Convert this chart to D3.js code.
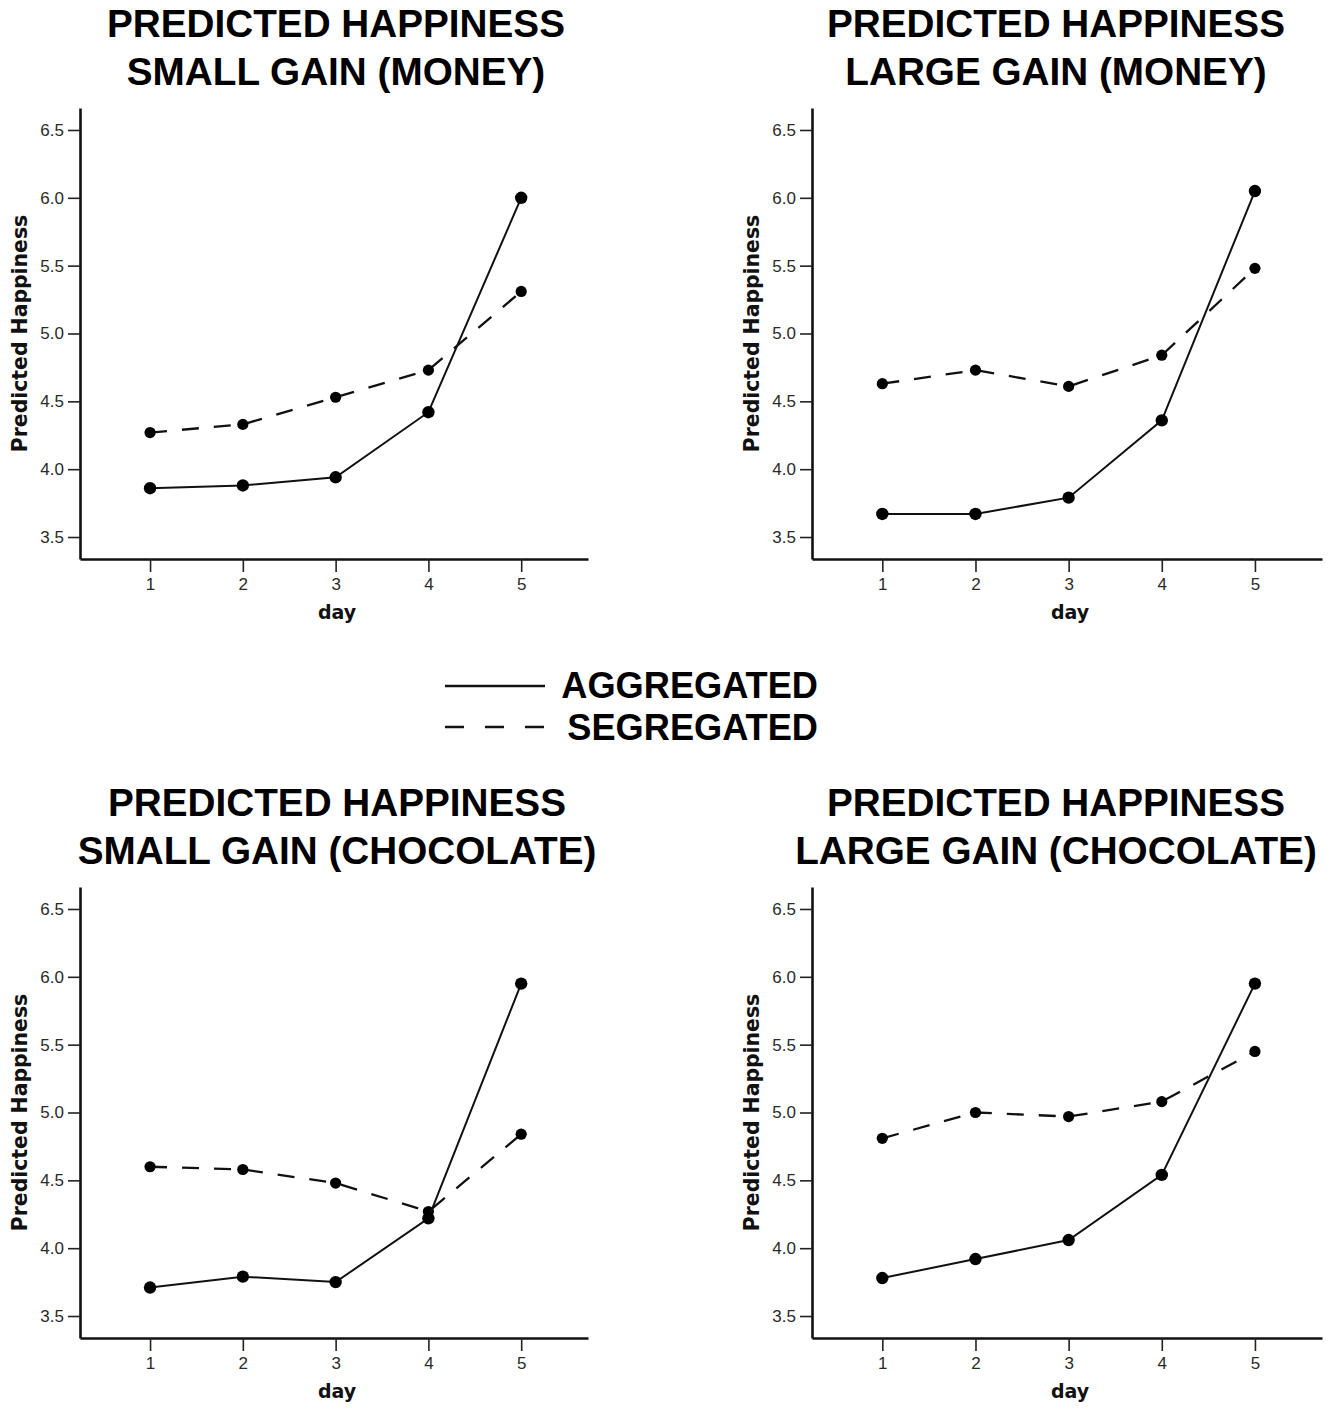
<!DOCTYPE html>
<html>
<head>
<meta charset="utf-8">
<script src="https://cdn.jsdelivr.net/npm/d3@7"></script>
<style>
  html, body { margin: 0; padding: 0; background: #fff; }
  svg { display: block; }
</style>
</head>
<body>
<svg id="chart" width="1331" height="1410"></svg>
<script>
// Days on the x axis
const days = [1, 2, 3, 4, 5];
const yTicks = [3.5, 4.0, 4.5, 5.0, 5.5, 6.0, 6.5];

// Mean predicted happiness per day
const aggSmallMoney = [3.86, 3.88, 3.94, 4.42, 6.00];
const segSmallMoney = [4.27, 4.33, 4.53, 4.73, 5.31];
const aggLargeMoney = [3.67, 3.67, 3.79, 4.36, 6.05];
const segLargeMoney = [4.63, 4.73, 4.61, 4.84, 5.48];
const aggSmallChoc  = [3.71, 3.79, 3.75, 4.22, 5.95];
const segSmallChoc  = [4.60, 4.58, 4.48, 4.27, 4.84];
const aggLargeChoc  = [3.78, 3.92, 4.06, 4.54, 5.95];
const segLargeChoc  = [4.81, 5.00, 4.97, 5.08, 5.45];

const panelTitles = [
  ["PREDICTED HAPPINESS", "SMALL GAIN (MONEY)"],
  ["PREDICTED HAPPINESS", "LARGE GAIN (MONEY)"],
  ["PREDICTED HAPPINESS", "SMALL GAIN (CHOCOLATE)"],
  ["PREDICTED HAPPINESS", "LARGE GAIN (CHOCOLATE)"]
];
const legendLabels = ["AGGREGATED", "SEGREGATED"];
const xLabel = "day";
const yLabel = "Predicted Happiness";

const panels = [
  { title: panelTitles[0], agg: aggSmallMoney, seg: segSmallMoney, left: 80,  top: 108, width: 508, titleX: 336,  titleY: 37 },
  { title: panelTitles[1], agg: aggLargeMoney, seg: segLargeMoney, left: 812, top: 108, width: 510, titleX: 1056, titleY: 37 },
  { title: panelTitles[2], agg: aggSmallChoc,  seg: segSmallChoc,  left: 80,  top: 887, width: 508, titleX: 337,  titleY: 816 },
  { title: panelTitles[3], agg: aggLargeChoc,  seg: segLargeChoc,  left: 812, top: 887, width: 510, titleX: 1056, titleY: 816 }
];
const panelHeight = 451;
const dashPattern = "17,15";

const svg = d3.select("#chart");

panels.forEach(p => {
  const x = d3.scaleLinear().domain([0.245, 5.72]).range([p.left, p.left + p.width]);
  const y = d3.scaleLinear().domain([3.338, 6.662]).range([p.top + panelHeight, p.top]);
  const g = svg.append("g");

  // Title, two lines
  g.append("text")
    .attr("x", p.titleX).attr("y", p.titleY)
    .attr("text-anchor", "middle")
    .style("font-family", "'Liberation Sans', Arial, sans-serif")
    .style("font-weight", "bold").style("font-size", "38.7px").attr("fill", "#000")
    .selectAll("tspan").data(p.title).join("tspan")
    .attr("x", p.titleX).attr("dy", (d, i) => i === 0 ? 0 : 48)
    .text(d => d);

  // Axes
  const yAxis = d3.axisLeft(y).tickValues(yTicks).tickFormat(d3.format(".1f"))
    .tickSize(12).tickSizeOuter(0).tickPadding(4);
  const xAxis = d3.axisBottom(x).tickValues(days).tickFormat(d3.format("d"))
    .tickSize(13).tickSizeOuter(0).tickPadding(6);

  const ya = g.append("g").attr("transform", `translate(${p.left},0)`).call(yAxis);
  const xa = g.append("g").attr("transform", `translate(0,${p.top + panelHeight})`).call(xAxis);
  [ya, xa].forEach(a => {
    a.attr("font-size", 17).attr("font-family", "'Liberation Sans', Arial, sans-serif");
    a.select(".domain").attr("stroke", "#111").attr("stroke-width", 2.6);
    a.selectAll(".tick line").attr("stroke", "#222").attr("stroke-width", 1.6);
    a.selectAll(".tick text").attr("fill", "#2a2a2a");
  });

  // Axis titles
  g.append("text")
    .attr("x", (p.left + p.left + p.width) / 2 + 3)
    .attr("y", p.top + panelHeight + 60)
    .attr("text-anchor", "middle")
    .style("font-family", "'DejaVu Sans', Verdana, sans-serif")
    .style("font-weight", "bold").style("font-size", "19px").attr("fill", "#111")
    .text(xLabel);
  g.append("text")
    .attr("transform", `translate(${p.left - 53},${p.top + panelHeight / 2}) rotate(-90)`)
    .attr("text-anchor", "middle")
    .style("font-family", "'DejaVu Sans', Verdana, sans-serif")
    .style("font-weight", "bold").style("font-size", "20.4px").attr("fill", "#111")
    .text(yLabel);

  const line = d3.line().x((d, i) => x(days[i])).y(d => y(d));

  // Segregated series, dashed
  g.append("path").datum(p.seg).attr("d", line)
    .attr("fill", "none").attr("stroke", "#111").attr("stroke-width", 2.3)
    .attr("stroke-dasharray", dashPattern);
  g.selectAll(".segDot").data(p.seg).join("circle")
    .attr("cx", (d, i) => x(days[i])).attr("cy", d => y(d)).attr("r", 5.6).attr("fill", "#000");

  // Aggregated series, solid
  g.append("path").datum(p.agg).attr("d", line)
    .attr("fill", "none").attr("stroke", "#111").attr("stroke-width", 2);
  g.selectAll(".aggDot").data(p.agg).join("circle")
    .attr("cx", (d, i) => x(days[i])).attr("cy", d => y(d)).attr("r", 6.2).attr("fill", "#000");
});

// Shared legend between the two rows
const legend = svg.append("g");
const legendRows = [
  { label: legendLabels[0], dash: null, lineY: 686, textY: 698 },
  { label: legendLabels[1], dash: "19,21", lineY: 727, textY: 740 }
];
legendRows.forEach(r => {
  legend.append("line")
    .attr("x1", 445).attr("x2", 545).attr("y1", r.lineY).attr("y2", r.lineY)
    .attr("stroke", "#111").attr("stroke-width", 2.6)
    .attr("stroke-dasharray", r.dash);
  legend.append("text")
    .attr("x", 818).attr("y", r.textY).attr("text-anchor", "end")
    .style("font-family", "'Liberation Sans', Arial, sans-serif")
    .style("font-weight", "bold").style("font-size", "36.2px").attr("fill", "#000")
    .text(r.label);
});
</script>
</body>
</html>
